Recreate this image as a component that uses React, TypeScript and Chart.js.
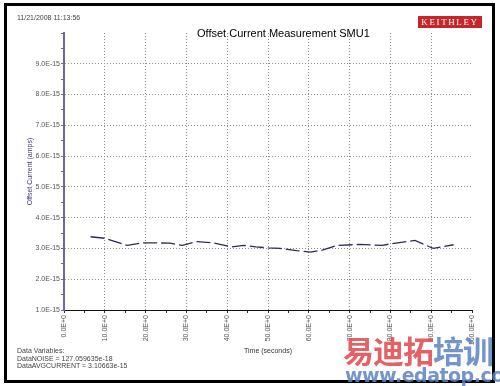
import React, { useEffect, useRef } from 'react';
import { Chart, registerables } from 'chart.js';

Chart.register(...registerables);

// Data
const timeSeconds = [6.5, 10, 15.5, 19, 22.5, 26, 29, 32.5, 36.5, 41, 44, 47, 50, 53, 57, 60.5, 63.5, 67, 72.5, 78, 80.5, 86, 90.5, 95.5];
const offsetCurrent = [3.38e-15, 3.33e-15, 3.1e-15, 3.18e-15, 3.18e-15, 3.17e-15, 3.1e-15, 3.22e-15, 3.18e-15, 3.05e-15, 3.1e-15, 3.05e-15, 3.02e-15, 3.0e-15, 2.93e-15, 2.88e-15, 2.95e-15, 3.1e-15, 3.13e-15, 3.1e-15, 3.16e-15, 3.26e-15, 3.0e-15, 3.12e-15];

const xTickValues = [0, 5, 10, 15, 20, 25, 30, 35, 40, 45, 50, 55, 60, 65, 70, 75, 80, 85, 90, 95, 100];
const xTickLabels = ['0.0E+0', '10.0E+0', '20.0E+0', '30.0E+0', '40.0E+0', '50.0E+0', '60.0E+0', '70.0E+0', '80.0E+0', '90.0E+0', '100.0E+0'];
const yTickValues = [1e-15, 1.5e-15, 2e-15, 2.5e-15, 3e-15, 3.5e-15, 4e-15, 4.5e-15, 5e-15, 5.5e-15, 6e-15, 6.5e-15, 7e-15, 7.5e-15, 8e-15, 8.5e-15, 9e-15, 9.5e-15, 10e-15];
const yTickLabels = ['1.0E-15', '2.0E-15', '3.0E-15', '4.0E-15', '5.0E-15', '6.0E-15', '7.0E-15', '8.0E-15', '9.0E-15', ''];

const chartTitle = 'Offset Current Measurement SMU1';
const timestamp = '11/21/2008 11:13:56';
const dataVariables = ['Data Variables:', 'DataNOISE = 127.059635e-18', 'DataAVGCURRENT = 3.10663e-15'];

const FONT = '"Liberation Sans", Arial, sans-serif';
const GRID = '#8c8c8c';
const CLEAR = 'rgba(0,0,0,0)';

export default function App() {
  const canvasRef = useRef<HTMLCanvasElement | null>(null);

  useEffect(() => {
    const canvas = canvasRef.current;
    if (!canvas) return;
    const chart = new Chart(canvas, {
      type: 'line',
      data: {
        datasets: [
          {
            label: 'Offset Current',
            data: timeSeconds.map((t, i) => ({ x: t, y: offsetCurrent[i] })),
            borderColor: '#2c2c52',
            borderWidth: 1.3,
            borderDash: [14, 4],
            pointRadius: 0,
            tension: 0,
            fill: false,
          },
        ],
      },
      options: {
        animation: false,
        responsive: false,
        maintainAspectRatio: false,
        layout: { padding: { top: 33, right: 28, bottom: 0, left: 0 } },
        plugins: {
          legend: { display: false },
          title: { display: false },
          tooltip: { enabled: false },
        },
        scales: {
          x: {
            type: 'linear',
            min: 0,
            max: 100,
            afterFit: (scale: any) => {
              scale.height = 76;
            },
            afterBuildTicks: (scale: any) => {
              scale.ticks = xTickValues.map((v) => ({ value: v }));
            },
            ticks: {
              autoSkip: false,
              minRotation: 90,
              maxRotation: 90,
              padding: 2,
              color: '#555',
              font: { family: FONT, size: 7 },
              callback: (_v: any, index: number) => (index % 2 === 0 ? xTickLabels[index / 2] : ''),
            },
            grid: {
              color: (ctx: any) => (ctx.index % 2 === 0 && ctx.index !== 0 && ctx.index !== 20 ? GRID : CLEAR),
              tickColor: '#333',
              tickLength: 3,
              lineWidth: 1,
            },
            border: { color: '#111', width: 1, dash: [1, 2] },
            title: {
              display: true,
              text: 'Time (seconds)',
              color: '#333',
              font: { family: FONT, size: 7 },
              padding: { top: 0, bottom: 31 },
            },
          },
          y: {
            type: 'linear',
            min: 1e-15,
            max: 10e-15,
            afterFit: (scale: any) => {
              scale.width = 64;
            },
            afterBuildTicks: (scale: any) => {
              scale.ticks = yTickValues.map((v) => ({ value: v }));
            },
            ticks: {
              autoSkip: false,
              padding: 1,
              color: '#555',
              font: { family: FONT, size: 7 },
              callback: (_v: any, index: number) => (index % 2 === 0 ? yTickLabels[index / 2] : ''),
            },
            grid: {
              color: (ctx: any) => (ctx.index % 2 === 0 && ctx.index !== 0 && ctx.index !== 18 ? GRID : CLEAR),
              tickColor: '#6a6a98',
              tickLength: 3,
              lineWidth: 1,
            },
            border: { color: '#6a6a98', width: 2, dash: [1, 2] },
            title: {
              display: true,
              text: 'Offset Current (amps)',
              color: '#3a3a78',
              font: { family: FONT, size: 7 },
              padding: { top: 26, bottom: 0 },
            },
          },
        },
      },
    });
    return () => chart.destroy();
  }, []);

  return (
    <div style={{ position: 'fixed', left: 0, top: 0, width: 500, height: 386, background: '#fff', overflow: 'hidden' }}>
      <canvas ref={canvasRef} width={500} height={386} style={{ position: 'absolute', left: 0, top: 0 }} />
      <div
        style={{
          position: 'absolute',
          left: 4,
          top: 3,
          width: 491,
          height: 380,
          border: '3px solid #000',
          boxSizing: 'border-box',
          pointerEvents: 'none',
        }}
      />
      <div style={{ position: 'absolute', left: 17, top: 14, font: `7px ${FONT}`, color: '#444' }}>{timestamp}</div>
      <div style={{ position: 'absolute', left: 197, top: 27, font: `11px ${FONT}`, color: '#000', whiteSpace: 'nowrap' }}>
        {chartTitle}
      </div>
      <div
        style={{
          position: 'absolute',
          left: 418,
          top: 16,
          width: 64,
          height: 12,
          background: '#c4262b',
          color: '#fff',
          font: `9px "Liberation Serif", serif`,
          letterSpacing: 1.6,
          textAlign: 'center',
          lineHeight: '12px',
        }}
      >
        KEITHLEY
      </div>
      <div style={{ position: 'absolute', left: 17, top: 347, font: `7px ${FONT}`, color: '#444', lineHeight: '7.5px', whiteSpace: 'nowrap' }}>
        {dataVariables.map((s) => (
          <div key={s}>{s}</div>
        ))}
      </div>
      <div
        style={{
          position: 'absolute',
          left: 343,
          top: 332,
          font: `bold 31px "Noto Sans CJK SC", sans-serif`,
          whiteSpace: 'nowrap',
          lineHeight: '36px',
          letterSpacing: -1,
        }}
      >
        <span style={{ color: 'rgba(222,70,74,0.85)' }}>易迪拓</span>
        <span style={{ color: 'rgba(90,130,195,0.85)' }}>培训</span>
      </div>
      <div
        style={{
          position: 'absolute',
          left: 345,
          top: 364,
          font: `bold 19px "DejaVu Sans", sans-serif`,
          color: 'rgba(90,130,195,0.85)',
          whiteSpace: 'nowrap',
          letterSpacing: -0.5,
        }}
      >
        www.edatop.com
      </div>
    </div>
  );
}
